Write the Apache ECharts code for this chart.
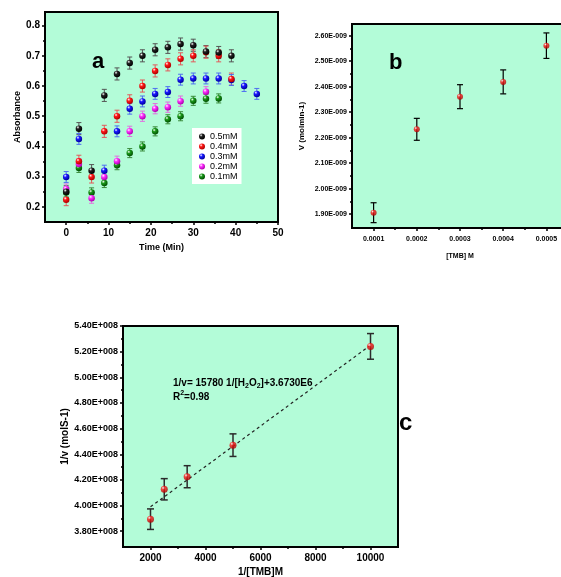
<!DOCTYPE html>
<html>
<head>
<meta charset="utf-8">
<script src="https://cdn.jsdelivr.net/npm/echarts@6/dist/echarts.min.js"></script>
<style>
  html, body { margin: 0; padding: 0; background: #fff; }
  #chart { width: 561px; height: 577px; }
</style>
</head>
<body>
<div id="chart"></div>
<script>
// panel a - absorbance vs time
const timeMin = [0, 3, 6, 9, 12, 15, 18, 21, 24, 27, 30, 33, 36, 39, 42, 45]
const abs05 = [0.25, 0.459, 0.32, 0.569, 0.64, 0.676, 0.70, 0.72, 0.728, 0.739, 0.735, 0.714, 0.711, 0.70, null, null]
const abs04 = [0.224, 0.351, 0.299, 0.45, 0.50, 0.551, 0.60, 0.65, 0.67, 0.69, 0.70, 0.712, 0.70, 0.623, null, null]
const abs03 = [0.299, 0.425, null, 0.32, 0.45, 0.525, 0.549, 0.574, 0.58, 0.621, 0.625, 0.625, 0.625, 0.62, 0.60, 0.574]
const abs02 = [0.259, 0.342, 0.229, 0.299, 0.351, 0.45, 0.50, 0.525, 0.53, 0.55, null, 0.581, null, null, null, null]
const abs01 = [0.248, 0.329, 0.248, 0.279, 0.338, 0.378, 0.40, 0.45, 0.49, 0.50, 0.551, 0.558, 0.559, null, null, null]
const absErr = [0.02, 0.02, 0.018, 0.017, 0.015]
const concNames = ['0.5mM', '0.4mM', '0.3mM', '0.2mM', '0.1mM']
const aYTicks = [0.2, 0.3, 0.4, 0.5, 0.6, 0.7, 0.8]
const aYMinor = [0.25, 0.35, 0.45, 0.55, 0.65, 0.75]
const aXTicks = [0, 10, 20, 30, 40, 50]
const aXMinor = [5, 15, 25, 35, 45]

// panel b - rate vs [TMB]
const tmbConc = [0.0001, 0.0002, 0.0003, 0.0004, 0.0005]
const rateV = [1.906e-9, 2.233e-9, 2.361e-9, 2.419e-9, 2.561e-9]
const rateErr = [0.039e-9, 0.043e-9, 0.047e-9, 0.047e-9, 0.05e-9]
const bYTicks = [1.9e-9, 2.0e-9, 2.1e-9, 2.2e-9, 2.3e-9, 2.4e-9, 2.5e-9, 2.6e-9]
const bYMinor = [1.95e-9, 2.05e-9, 2.15e-9, 2.25e-9, 2.35e-9, 2.45e-9, 2.55e-9]
const bXTicks = [0.0001, 0.0002, 0.0003, 0.0004, 0.0005]
const bXMinor = [0.00015, 0.00025, 0.00035, 0.00045]

// panel c - lineweaver-burk
const invTmb = [2000, 2500, 3333, 5000, 10000]
const invRate = [3.894e8, 4.127e8, 4.225e8, 4.471e8, 5.241e8]
const invErr = [0.08e8, 0.083e8, 0.086e8, 0.088e8, 0.10e8]
const fitX = [2000, 10000]
const fitY = [3.99e8, 5.25e8]
const cYTicks = [3.8e8, 4.0e8, 4.2e8, 4.4e8, 4.6e8, 4.8e8, 5.0e8, 5.2e8, 5.4e8]
const cYMinor = [3.9e8, 4.1e8, 4.3e8, 4.5e8, 4.7e8, 4.9e8, 5.1e8, 5.3e8]
const cXTicks = [2000, 4000, 6000, 8000, 10000]
const cXMinor = [3000, 5000, 7000, 9000]

const FONT = 'Liberation Sans, Arial, sans-serif'
const GREEN = '#b3fcd8'

const ball = (base, dark) =>
  new echarts.graphic.RadialGradient(0.35, 0.3, 0.7, [
    { offset: 0, color: '#ffffff' },
    { offset: 0.35, color: base },
    { offset: 1, color: dark }
  ])

const seriesColors = [
  { base: '#222222', dark: '#000000', bar: '#555555' },
  { base: '#ff1a1a', dark: '#b00000', bar: '#e35a5a' },
  { base: '#1a1aff', dark: '#0000a0', bar: '#4f6ff0' },
  { base: '#ff33ff', dark: '#b000b0', bar: '#e070e0' },
  { base: '#1a9a1a', dark: '#005000', bar: '#3a8a3a' }
]

/**
 * error bar drawn through the axis scales
 */
const errorItem = (cap, color, width) => (params, api) => {
  const x = api.value(0)
  const top = api.coord([x, api.value(2)])
  const bot = api.coord([x, api.value(1)])
  const style = { stroke: color, lineWidth: width }
  return {
    type: 'group',
    children: [
      { type: 'line', shape: { x1: top[0], y1: top[1], x2: bot[0], y2: bot[1] }, style },
      { type: 'line', shape: { x1: top[0] - cap, y1: top[1], x2: top[0] + cap, y2: top[1] }, style },
      { type: 'line', shape: { x1: bot[0] - cap, y1: bot[1], x2: bot[0] + cap, y2: bot[1] }, style }
    ]
  }
}

const errorSeries = (xs, ys, errs, axis, cap, color, width) => ({
  type: 'custom',
  xAxisIndex: axis,
  yAxisIndex: axis,
  renderItem: errorItem(cap, color, width),
  encode: { x: 0, y: [1, 2] },
  silent: true,
  z: 2,
  data: xs.map((x, i) => {
    const y = ys[i]
    if (y == null) return null
    const e = Array.isArray(errs) ? errs[i] : errs
    return [x, y - e, y + e]
  }).filter(d => d)
})

const pairs = (xs, ys) => xs.map((x, i) => [x, ys[i]]).filter(d => d[1] != null)

// main axis + a twin carrying the minor ticks
const makeAxes = (dim, grid, min, max, ticks, minors, fmt, labelSize, labelMargin, name, nameGap, nameSize) => {
  const main = {
    type: 'value',
    gridIndex: grid,
    min, max,
    position: dim === 'x' ? 'bottom' : 'left',
    name,
    nameLocation: 'middle',
    nameGap,
    nameTextStyle: { fontFamily: FONT, fontWeight: 'bold', fontSize: nameSize, color: '#000' },
    axisLine: { show: true, onZero: false, lineStyle: { color: '#000', width: 2 } },
    axisTick: { show: true, length: 3, customValues: ticks, lineStyle: { color: '#000', width: 1.5 } },
    axisLabel: {
      customValues: ticks,
      formatter: fmt,
      margin: labelMargin,
      color: '#000',
      fontFamily: FONT,
      fontWeight: 'bold',
      fontSize: labelSize
    },
    splitLine: { show: false }
  }
  const twin = {
    type: 'value',
    gridIndex: grid,
    min, max,
    position: dim === 'x' ? 'bottom' : 'left',
    axisLine: { show: false, onZero: false },
    axisTick: { show: true, length: 2, customValues: minors, lineStyle: { color: '#000', width: 1.5 } },
    axisLabel: { show: false },
    splitLine: { show: false }
  }
  return [main, twin]
}

const myChart = echarts.init(document.getElementById('chart'), null, { renderer: 'canvas' })

const gridBase = {
  show: true,
  backgroundColor: GREEN,
  borderColor: '#000',
  borderWidth: 2,
  containLabel: false,
  outerBoundsMode: 'none'
}

const [axAx, axAx2] = makeAxes('x', 0, -5, 50, aXTicks, aXMinor, v => String(v), 10, 6, 'Time (Min)', 21, 9)
const [ayAx, ayAx2] = makeAxes('y', 0, 0.15, 0.845, aYTicks, aYMinor, v => v.toFixed(1), 10, 5, 'Absorbance', 21, 9)
const [bxAx, bxAx2] = makeAxes('x', 1, 0.00005, 0.00055, bXTicks, bXMinor, v => v.toFixed(4), 7, 8, '[TMB] M', 25, 7)
const [byAx, byAx2] = makeAxes('y', 1, 1.846e-9, 2.646e-9, bYTicks, bYMinor, v => (v * 1e9).toFixed(2) + 'E-009', 7, 5, 'V (molmin-1)', 46, 8)
const [cxAx, cxAx2] = makeAxes('x', 2, 1000, 11000, cXTicks, cXMinor, v => String(v), 10, 6, '1/[TMB]M', 20, 10)
const [cyAx, cyAx2] = makeAxes('y', 2, 3.677e8, 5.40e8, cYTicks, cYMinor, v => (v / 1e8).toFixed(2) + 'E+008', 9, 5, '1/v (molS-1)', 52, 10)

const absSets = [abs05, abs04, abs03, abs02, abs01]

const series = []
absSets.forEach((ys, k) => {
  const c = seriesColors[k]
  series.push(errorSeries(timeMin, ys, absErr[k], 0, 2.5, c.bar, 1))
})
// lowest concentration drawn first so the upper ones sit on top as in the figure
for (let k = absSets.length - 1; k >= 0; k--) {
  const c = seriesColors[k]
  series.push({
    type: 'scatter',
    name: concNames[k],
    xAxisIndex: 0,
    yAxisIndex: 0,
    symbolSize: 6.5,
    z: 3,
    itemStyle: { color: ball(c.base, c.dark), opacity: 1 },
    data: pairs(timeMin, absSets[k])
  })
}

series.push(errorSeries(tmbConc, rateV, rateErr, 2, 3, '#000', 1.2))
series.push({
  type: 'scatter',
  xAxisIndex: 2,
  yAxisIndex: 2,
  symbolSize: 6,
  z: 3,
  itemStyle: { color: ball('#ff1a1a', '#b00000') },
  data: pairs(tmbConc, rateV)
})

series.push({
  type: 'line',
  xAxisIndex: 4,
  yAxisIndex: 4,
  symbol: 'none',
  silent: true,
  z: 1,
  lineStyle: { color: '#222', width: 1.2, type: [3, 3] },
  data: pairs(fitX, fitY)
})
series.push(errorSeries(invTmb, invRate, invErr, 4, 3.5, '#2b2b2b', 1.5))
series.push({
  type: 'scatter',
  xAxisIndex: 4,
  yAxisIndex: 4,
  symbolSize: 7,
  z: 3,
  itemStyle: { color: ball('#ff1a1a', '#b00000') },
  data: pairs(invTmb, invRate)
})

const option = {
  animation: false,
  backgroundColor: '#fff',
  grid: [
    { ...gridBase, left: 45, top: 12, right: 283, bottom: 355 },
    { ...gridBase, left: 352, top: 24, right: -7, bottom: 349 },
    { ...gridBase, left: 123, top: 326, right: 163, bottom: 30 }
  ],
  xAxis: [axAx, axAx2, bxAx, bxAx2, cxAx, cxAx2],
  yAxis: [ayAx, ayAx2, byAx, byAx2, cyAx, cyAx2],
  legend: {
    data: concNames,
    orient: 'vertical',
    left: 192,
    top: 128,
    padding: [4, 4, 3, 7],
    backgroundColor: '#fff',
    itemWidth: 6,
    itemHeight: 6,
    itemGap: 1,
    icon: 'circle',
    textStyle: { fontFamily: FONT, fontSize: 9, color: '#000', lineHeight: 8 }
  },
  graphic: [
    {
      type: 'text', left: 92, top: 51,
      style: { text: 'a', font: 'bold 22px ' + FONT, fill: '#000' }
    },
    {
      type: 'text', left: 389, top: 52,
      style: { text: 'b', font: 'bold 22px ' + FONT, fill: '#000' }
    },
    {
      type: 'text', left: 399, top: 411,
      style: { text: 'c', font: 'bold 24px ' + FONT, fill: '#000' }
    },
    {
      type: 'text', left: 173, top: 376,
      style: {
        text: '1/v= 15780 1/[H{s|2}O{s|2}]+3.6730E6\nR{p|2}=0.98',
        font: 'bold 10px ' + FONT,
        fill: '#000',
        lineHeight: 14,
        rich: {
          s: { fontSize: 7, fontWeight: 'bold', fontFamily: FONT, verticalAlign: 'bottom', lineHeight: 7 },
          p: { fontSize: 7, fontWeight: 'bold', fontFamily: FONT, verticalAlign: 'top', lineHeight: 7 }
        }
      }
    }
  ],
  series
}

option && myChart.setOption(option)
</script>
</body>
</html>
